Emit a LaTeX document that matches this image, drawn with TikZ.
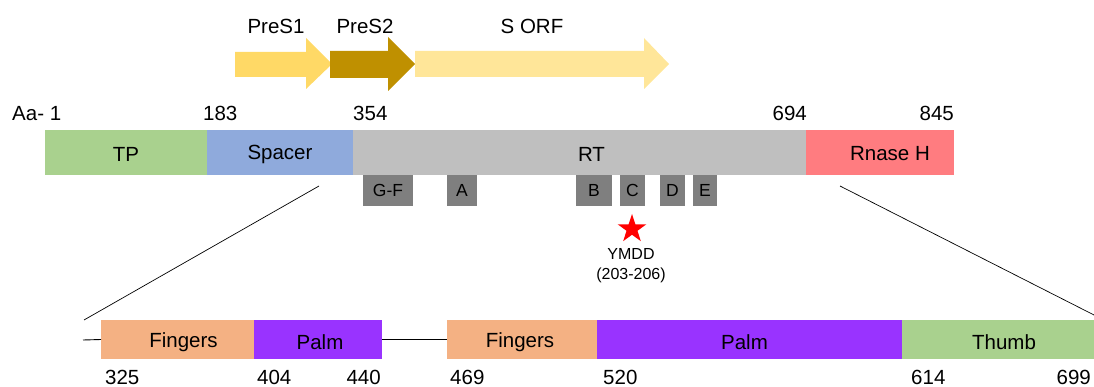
\documentclass[tikz,border=0pt]{standalone}
\usepackage{fontspec}
\setmainfont{Liberation Sans}
\usetikzlibrary{shapes.geometric}
\definecolor{cPreSone}{HTML}{FFD966}
\definecolor{cPreStwo}{HTML}{BF9000}
\definecolor{cSorf}{HTML}{FFE699}
\definecolor{cTP}{HTML}{A9D18E}
\definecolor{cSpacer}{HTML}{8FAADC}
\definecolor{cRT}{HTML}{BFBFBF}
\definecolor{cRnase}{HTML}{FF7C80}
\definecolor{cMotif}{HTML}{7F7F7F}
\definecolor{cFingers}{HTML}{F4B183}
\definecolor{cPalm}{HTML}{9933FF}
\begin{document}
\begin{tikzpicture}[x=1pt,y=-1pt,
  bigfont/.style={font=\fontsize{20.5}{24}\selectfont},
  seg/.style={draw=none, inner sep=0pt, outer sep=0pt, anchor=north west, minimum height=#1},
  mainseg/.style={seg=45pt},
  subseg/.style={seg=39pt},
  motif/.style={seg=31pt, fill=cMotif, font=\fontsize{17.5}{20}\selectfont},
  numlab/.style={bigfont, inner sep=0pt, anchor=base west},
  numlabr/.style={bigfont, inner sep=0pt, anchor=base east},
  thinline/.style={draw=black, line width=0.9pt},
]
\useasboundingbox (0,0) rectangle (1094,387);

% ORF arrows
\fill[cPreSone] (235,52) -- (306,52) -- (306,38) -- (332,64) -- (306,89) -- (306,77) -- (235,77) -- cycle;
\fill[cPreStwo] (330,51) -- (388,51) -- (388,37) -- (415,64) -- (388,91) -- (388,78) -- (330,78) -- cycle;
\fill[cSorf] (415,51) -- (644,51) -- (644,38) -- (669,64) -- (644,89) -- (644,77) -- (415,77) -- cycle;
\node[bigfont, anchor=base] (lpresone) at (276,34) {PreS1};
\node[bigfont, anchor=base] (lprestwo) at (365,34) {PreS2};
\node[bigfont, anchor=base] (lsorf) at (532,34) {S ORF};

% main bar
\node[mainseg, fill=cTP, minimum width=162pt, label={[bigfont, yshift=-1.5pt]center:TP}] (tp) at (45,130) {};
\node[mainseg, fill=cSpacer, minimum width=146pt, label={[bigfont, yshift=-1.5pt]center:Spacer}] (spacer) at (207,130) {};
\node[mainseg, fill=cRT, minimum width=453pt, label={[bigfont, xshift=12pt, yshift=-1.5pt]center:RT}] (rt) at (353,130) {};
\node[mainseg, fill=cRnase, minimum width=148pt, label={[bigfont, xshift=10pt, yshift=-1.5pt]center:Rnase H}] (rnase) at (806,130) {};

% position labels
\node[numlab] (n1) at (12,121) {Aa- 1};
\node[numlab] (n183) at (203,121) {183};
\node[numlab] (n354) at (353,121) {354};
\node[numlabr] (n694) at (807,121) {694};
\node[numlabr] (n845) at (954,121) {845};

% motifs
\node[motif, minimum width=50pt] (mgf) at (363,175) {G-F};
\node[motif, minimum width=30pt] (ma) at (447,175) {A};
\node[motif, minimum width=36pt] (mb) at (576,175) {B};
\node[motif, minimum width=25pt] (mc) at (620,175) {C};
\node[motif, minimum width=25pt] (md) at (660,175) {D};
\node[motif, minimum width=24pt] (me) at (693,175) {E};

% YMDD star
\node[star, star points=5, star point ratio=2.6, fill=red, draw=none, minimum size=30pt, inner sep=0pt] (star) at (632,229) {};
\node[font=\fontsize{16}{19}\selectfont, inner sep=0pt, align=center, anchor=north] (ymdd) at (631,248) {YMDD\\[1pt](203-206)};

% bottom bars
\node[subseg, fill=cFingers, minimum width=153pt, label={[bigfont, xshift=6pt, yshift=-3pt]center:Fingers}] (fone) at (101,320) {};
\node[subseg, fill=cPalm, minimum width=128pt, label={[bigfont, xshift=2pt, yshift=-3pt]center:Palm}] (pone) at (254,320) {};
\node[subseg, fill=cFingers, minimum width=150pt, label={[bigfont, xshift=-2pt, yshift=-3pt]center:Fingers}] (ftwo) at (447,320) {};
\node[subseg, fill=cPalm, minimum width=305pt, label={[bigfont, xshift=-5pt, yshift=-3pt]center:Palm}] (ptwo) at (597,320) {};
\node[subseg, fill=cTP, minimum width=192pt, label={[bigfont, xshift=6pt, yshift=-3pt]center:Thumb}] (thumb) at (902,320) {};

% connectors
\coordinate (lstart) at (83,340);
\coordinate (zlt) at (319,186);
\coordinate (zlb) at (84,320);
\coordinate (zrt) at (840,186);
\coordinate (zrb) at (1094,315);
\draw[thinline] (lstart) -- (fone.west);
\draw[thinline] (pone.east) -- (ftwo.west);
\draw[black, line width=0.7pt] (zlt) -- (zlb);
\draw[black, line width=0.7pt] (zrt) -- (zrb);

% bottom numbers
\node[numlab] (b325) at (105,384) {325};
\node[numlab] (b404) at (257,384) {404};
\node[numlabr] (b440) at (381,384) {440};
\node[numlab] (b469) at (450,384) {469};
\node[numlab] (b520) at (603,384) {520};
\node[numlab] (b614) at (911,384) {614};
\node[numlabr] (b699) at (1091,384) {699};
\end{tikzpicture}
\end{document}
